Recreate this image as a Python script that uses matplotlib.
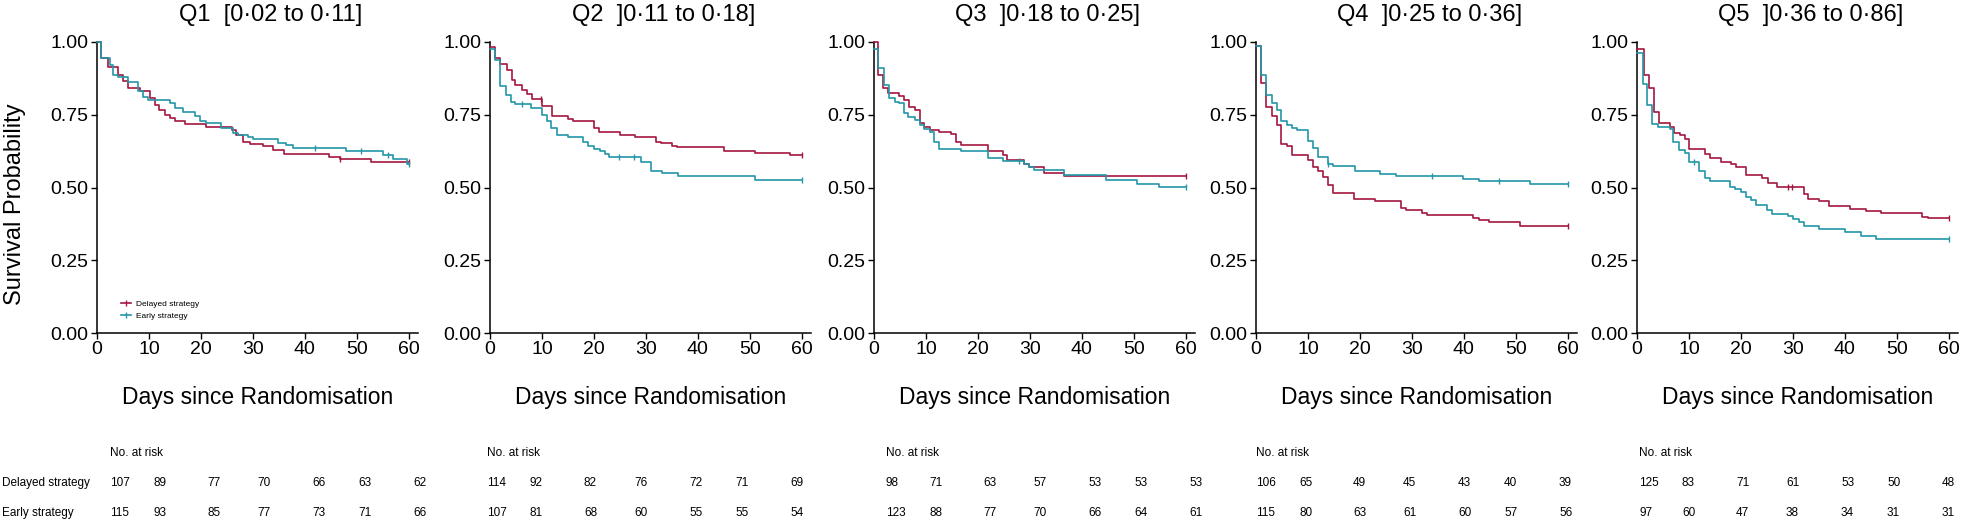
import numpy as np
import matplotlib
matplotlib.use("Agg")
from matplotlib import pyplot as plt
from matplotlib.lines import Line2D

plt.rcParams['font.family'] = ['Liberation Sans', 'DejaVu Sans']

# ---- data ----
titles = ["Q1  [0\u00b702 to 0\u00b711]", "Q2  ]0\u00b711 to 0\u00b718]", "Q3  ]0\u00b718 to 0\u00b725]",
          "Q4  ]0\u00b725 to 0\u00b736]", "Q5  ]0\u00b736 to 0\u00b786]"]
groups = ["Delayed strategy", "Early strategy"]
risk_days = [0, 10, 20, 30, 40, 50, 60]

q1_del_t = [0, 0.8, 2.2, 4.1, 5.1, 6.0, 8.3, 10.2, 11.1, 12.0, 13.0, 14.0, 15.0, 16.9, 21.0, 25.9, 26.8, 28.1, 29.4, 31.9, 33.9, 36.0, 44.7, 46.7, 52.8, 60]
q1_del_s = [1.0, 0.944, 0.915, 0.887, 0.866, 0.841, 0.833, 0.807, 0.784, 0.767, 0.749, 0.738, 0.727, 0.719, 0.709, 0.698, 0.681, 0.658, 0.650, 0.644, 0.629, 0.616, 0.604, 0.597, 0.587, 0.587]
q1_del_cens = [46.7, 60]
q1_early_t = [0, 0.8, 2.5, 3.1, 4.1, 6.0, 7.9, 8.9, 9.9, 14.0, 15.0, 16.6, 18.8, 19.8, 21.0, 23.9, 26.2, 27.1, 29.0, 30.0, 34.8, 36.4, 37.7, 48.0, 55.0, 56.9, 59.7, 60]
q1_early_s = [1.0, 0.945, 0.921, 0.885, 0.879, 0.864, 0.830, 0.810, 0.800, 0.789, 0.772, 0.761, 0.744, 0.727, 0.721, 0.704, 0.689, 0.681, 0.672, 0.666, 0.654, 0.646, 0.637, 0.627, 0.612, 0.597, 0.582, 0.582]
q1_early_cens = [41.9, 50.8, 56.0, 60]

q2_del_t = [0, 1.0, 2.0, 3.2, 4.2, 4.9, 6.1, 7.2, 8.1, 10.1, 12.0, 15.1, 16.0, 20.0, 21.0, 25.0, 28.0, 32.0, 33.0, 35.0, 36.0, 45.0, 51.0, 57.7, 60]
q2_del_s = [0.984, 0.944, 0.924, 0.904, 0.870, 0.852, 0.835, 0.821, 0.805, 0.780, 0.746, 0.735, 0.727, 0.706, 0.691, 0.681, 0.673, 0.658, 0.652, 0.644, 0.638, 0.627, 0.618, 0.612, 0.612]
q2_del_cens = [9.8, 60]
q2_early_t = [0, 1.0, 1.9, 3.0, 4.0, 4.9, 7.8, 10.0, 10.9, 11.8, 12.9, 15.0, 17.9, 18.9, 20.0, 21.1, 22.2, 22.9, 29.0, 30.9, 33.1, 36.1, 51.1, 60]
q2_early_s = [0.975, 0.938, 0.849, 0.818, 0.795, 0.786, 0.772, 0.749, 0.727, 0.704, 0.681, 0.673, 0.658, 0.641, 0.632, 0.624, 0.614, 0.606, 0.589, 0.558, 0.549, 0.538, 0.526, 0.526]
q2_early_cens = [6.1, 24.9, 27.8, 60]

q3_del_t = [0, 0.8, 1.7, 2.7, 4.8, 5.7, 6.8, 7.8, 8.8, 9.7, 10.7, 12.6, 14.8, 15.8, 16.8, 21.9, 24.8, 25.7, 27.6, 28.9, 29.9, 32.8, 36.6, 60]
q3_del_s = [1.0, 0.887, 0.841, 0.826, 0.816, 0.800, 0.778, 0.767, 0.723, 0.709, 0.698, 0.692, 0.683, 0.658, 0.646, 0.624, 0.612, 0.595, 0.593, 0.581, 0.572, 0.551, 0.541, 0.541]
q3_del_cens = [60]
q3_early_t = [0, 0.8, 1.9, 2.9, 4.0, 4.9, 5.7, 6.6, 7.8, 8.8, 9.7, 10.7, 11.6, 12.6, 16.8, 21.9, 24.8, 28.9, 29.9, 30.8, 36.6, 44.6, 50.7, 54.9, 60]
q3_early_s = [0.975, 0.909, 0.852, 0.807, 0.795, 0.789, 0.755, 0.741, 0.732, 0.715, 0.700, 0.692, 0.658, 0.633, 0.626, 0.601, 0.592, 0.580, 0.570, 0.561, 0.543, 0.526, 0.513, 0.503, 0.503]
q3_early_cens = [28.0, 60]

q4_del_t = [0, 1.0, 1.9, 3.0, 4.0, 4.9, 5.9, 6.9, 10.0, 11.0, 12.0, 12.9, 13.9, 14.9, 18.8, 23.0, 28.0, 28.9, 32.0, 32.9, 41.7, 42.9, 44.8, 50.8, 60]
q4_del_s = [0.985, 0.858, 0.776, 0.746, 0.715, 0.650, 0.641, 0.612, 0.593, 0.572, 0.555, 0.535, 0.509, 0.481, 0.461, 0.452, 0.429, 0.423, 0.412, 0.406, 0.395, 0.389, 0.380, 0.366, 0.366]
q4_del_cens = [60]
q4_early_t = [0, 1.0, 1.9, 3.0, 4.0, 4.9, 5.9, 6.9, 7.8, 10.0, 11.0, 12.0, 13.9, 14.9, 19.0, 23.8, 26.9, 39.8, 42.9, 52.8, 60]
q4_early_s = [0.985, 0.887, 0.818, 0.792, 0.767, 0.730, 0.715, 0.704, 0.696, 0.661, 0.635, 0.606, 0.581, 0.575, 0.555, 0.547, 0.538, 0.529, 0.521, 0.511, 0.511]
q4_early_cens = [13.9, 33.9, 46.7, 60]

q5_del_t = [0, 1.3, 2.3, 3.3, 4.2, 6.3, 7.1, 8.2, 9.2, 10.1, 13.1, 14.1, 16.1, 18.1, 19.1, 21.0, 24.0, 25.2, 26.9, 32.2, 33.0, 35.1, 37.0, 41.0, 44.0, 47.0, 54.9, 56.0, 60]
q5_del_s = [0.975, 0.887, 0.841, 0.761, 0.721, 0.709, 0.689, 0.681, 0.666, 0.633, 0.616, 0.601, 0.586, 0.580, 0.569, 0.543, 0.532, 0.517, 0.503, 0.478, 0.461, 0.454, 0.435, 0.426, 0.420, 0.412, 0.400, 0.395, 0.395]
q5_del_cens = [29.0, 29.8, 60]
q5_early_t = [0, 1.1, 2.0, 2.9, 4.0, 6.3, 7.0, 8.1, 9.2, 10.1, 12.0, 13.1, 14.1, 18.0, 18.9, 20.0, 21.0, 22.0, 23.0, 25.0, 26.0, 29.0, 30.0, 31.1, 32.1, 35.0, 40.1, 43.1, 46.1, 60]
q5_early_s = [0.961, 0.856, 0.784, 0.719, 0.709, 0.700, 0.658, 0.629, 0.618, 0.587, 0.555, 0.532, 0.521, 0.503, 0.494, 0.483, 0.469, 0.458, 0.440, 0.421, 0.410, 0.403, 0.391, 0.380, 0.368, 0.357, 0.346, 0.332, 0.324, 0.324]
q5_early_cens = [11.0, 60]

risk_del = [[107, 89, 77, 70, 66, 63, 62],
            [114, 92, 82, 76, 72, 71, 69],
            [98, 71, 63, 57, 53, 53, 53],
            [106, 65, 49, 45, 43, 40, 39],
            [125, 83, 71, 61, 53, 50, 48]]
risk_early = [[115, 93, 85, 77, 73, 71, 66],
              [107, 81, 68, 60, 55, 55, 54],
              [123, 88, 77, 70, 66, 64, 61],
              [115, 80, 63, 61, 60, 57, 56],
              [97, 60, 47, 38, 34, 31, 31]]

curves = [
    ((q1_del_t, q1_del_s, q1_del_cens), (q1_early_t, q1_early_s, q1_early_cens)),
    ((q2_del_t, q2_del_s, q2_del_cens), (q2_early_t, q2_early_s, q2_early_cens)),
    ((q3_del_t, q3_del_s, q3_del_cens), (q3_early_t, q3_early_s, q3_early_cens)),
    ((q4_del_t, q4_del_s, q4_del_cens), (q4_early_t, q4_early_s, q4_early_cens)),
    ((q5_del_t, q5_del_s, q5_del_cens), (q5_early_t, q5_early_s, q5_early_cens)),
]

colors = ["#A3173F", "#2496A8"]

W, H = 1968, 520
fig = plt.figure(figsize=(W / 100, H / 100), dpi=100)

panel_left = [97, 490, 874, 1256, 1637]   # px
panel_w = 321
ax_top, ax_bot = 42, 333
table_shift = [13, -3, 12, 0, 2]
col_off = [0, 43, 97, 147, 202, 248, 303]


def surv_at(t, s, c):
    t = np.asarray(t)
    i = np.searchsorted(t, c, side='right') - 1
    return np.asarray(s)[i]


for k in range(5):
    x0 = panel_left[k]
    ax = fig.add_axes([x0 / W, 1 - ax_bot / H, panel_w / W, (ax_bot - ax_top) / H])
    for (t, s, cens), col in zip(curves[k], colors):
        ax.step(t, s, where='post', color=col, lw=1.2, clip_on=False, zorder=3)
        cens = np.asarray(cens)
        ax.plot(cens, surv_at(t, s, cens), ls='none', marker='|', ms=5, mew=1.0,
                color=col, clip_on=False, zorder=3)
    ax.set_xlim(0, 61.8)
    ax.set_ylim(0, 1.0)
    ax.set_xticks(risk_days)
    ax.set_yticks([0, 0.25, 0.5, 0.75, 1.0])
    ax.set_yticklabels(["0.00", "0.25", "0.50", "0.75", "1.00"])
    ax.tick_params(labelsize=14, length=4, width=1, pad=2, color='black')
    for sp in ['top', 'right']:
        ax.spines[sp].set_visible(False)
    for sp in ['left', 'bottom']:
        ax.spines[sp].set_linewidth(1.1)
    ax.set_xlabel("Days since Randomisation", fontsize=16.5, labelpad=20)
    fig.text((x0 + 0.54 * panel_w) / W, 1 - 15 / H, titles[k], fontsize=17,
             ha='center', va='center')

    if k == 0:
        handles = [Line2D([], [], color=c, lw=1.2, marker='|', ms=4) for c in colors]
        ax.legend(handles, groups, loc='lower left', bbox_to_anchor=(0.05, 0.02),
                  frameon=False, fontsize=6, handlelength=1.3, handletextpad=0.6,
                  labelspacing=0.5)

    # number at risk table
    xs = x0 + table_shift[k]
    fig.text(xs / W, 1 - 453 / H, "No. at risk", fontsize=8.5, ha='left', va='center')
    for j in range(7):
        fig.text((xs + col_off[j]) / W, 1 - 483 / H, str(risk_del[k][j]), fontsize=8.5,
                 ha='left', va='center')
        fig.text((xs + col_off[j]) / W, 1 - 513 / H, str(risk_early[k][j]), fontsize=8.5,
                 ha='left', va='center')

fig.text(2 / W, 1 - 483 / H, groups[0], fontsize=8.5, ha='left', va='center')
fig.text(2 / W, 1 - 513 / H, groups[1], fontsize=8.5, ha='left', va='center')
fig.text(15 / W, 1 - 204 / H, "Survival Probability", fontsize=17, rotation=90,
         ha='center', va='center')

fig.savefig("out.png", dpi=100)
